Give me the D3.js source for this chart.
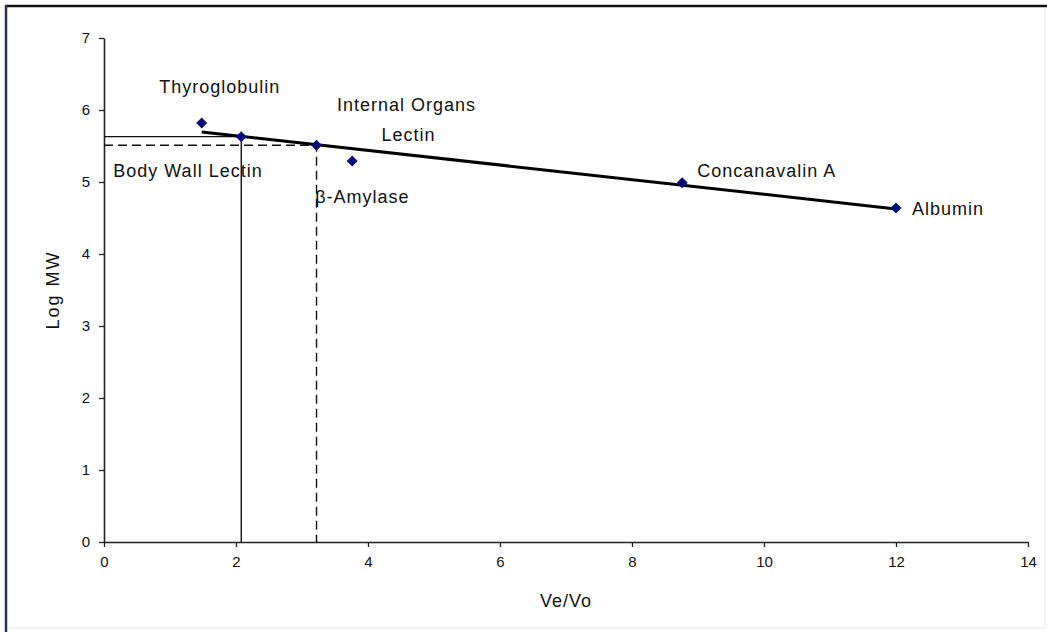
<!DOCTYPE html>
<html>
<head>
<meta charset="utf-8">
<script src="https://cdn.jsdelivr.net/npm/d3@7"></script>
<style>
  body { margin: 0; background: #fff; }
  svg text { font-family: "Liberation Sans", Arial, sans-serif; fill: #111; }
</style>
</head>
<body>
<script>
// standards used for the calibration curve
const proteinNames = ["Thyroglobulin", "β-Amylase", "Concanavalin A", "Albumin"];
const proteinVeVo = [1.48, 3.76, 8.76, 12.0];
const proteinLogMW = [5.82, 5.29, 4.99, 4.64];

// unknowns
const lectinNames = ["Body Wall Lectin", "Internal Organs Lectin"];
const lectinVeVo = [2.08, 3.22];
const lectinLogMW = [5.63, 5.51];

const xTicks = [0, 2, 4, 6, 8, 10, 12, 14];
const yTicks = [0, 1, 2, 3, 4, 5, 6, 7];
const xTitle = "Ve/Vo";
const yTitle = "Log MW";

const width = 1047;
const height = 632;
const margin = { top: 38, right: 19, bottom: 90, left: 104 };

const svg = d3
  .select("body")
  .append("svg")
  .attr("width", width)
  .attr("height", height);

// frame round the chart (dark top/left, light bottom/right)
svg.append("line").attr("x1", 5).attr("x2", width).attr("y1", 6).attr("y2", 6)
  .attr("stroke", "#111").attr("stroke-width", 2.5);
svg.append("line").attr("x1", 6).attr("x2", 6).attr("y1", 5).attr("y2", height)
  .attr("stroke", "#2b3150").attr("stroke-width", 2.5);
svg.append("line").attr("x1", 1045).attr("x2", 1045).attr("y1", 8).attr("y2", 628)
  .attr("stroke", "#e6e6e6").attr("stroke-width", 1);
svg.append("line").attr("x1", 8).attr("x2", 1045).attr("y1", 628).attr("y2", 628)
  .attr("stroke", "#e6e6e6").attr("stroke-width", 1);

const x = d3.scaleLinear().domain([0, 14]).range([margin.left, width - margin.right]);
const y = d3.scaleLinear().domain([0, 7]).range([height - margin.bottom, margin.top]);

const xAxis = svg.append("g")
  .attr("transform", `translate(0, ${y(0)})`)
  .call(d3.axisBottom(x).tickValues(xTicks).tickFormat(d3.format("d"))
    .tickSize(5).tickPadding(9).tickSizeOuter(0));

const yAxis = svg.append("g")
  .attr("transform", `translate(${x(0)}, 0)`)
  .call(d3.axisLeft(y).tickValues(yTicks).tickFormat(d3.format("d"))
    .tickSize(5).tickPadding(9).tickSizeOuter(0));

[xAxis, yAxis].forEach((ax) => {
  ax.select(".domain").attr("stroke", "#222").attr("stroke-width", 1.6);
  ax.selectAll(".tick line").attr("stroke", "#222").attr("stroke-width", 1.3);
  ax.selectAll(".tick text").attr("font-size", 15).attr("fill", "#111")
    .style("font-family", "'Liberation Sans', Arial, sans-serif");
});

svg.append("text")
  .attr("x", (x(0) + x(14)) / 2)
  .attr("y", 607)
  .attr("text-anchor", "middle")
  .attr("font-size", 18)
  .attr("letter-spacing", 1)
  .text(xTitle);

svg.append("text")
  .attr("transform", `translate(59, ${(y(0) + y(7)) / 2}) rotate(-90)`)
  .attr("text-anchor", "middle")
  .attr("font-size", 18)
  .attr("letter-spacing", 2)
  .text(yTitle);

// least squares fit through the standards
const meanX = d3.mean(proteinVeVo);
const meanY = d3.mean(proteinLogMW);
let sxy = 0, sxx = 0;
proteinVeVo.forEach((v, i) => {
  sxy += (v - meanX) * (proteinLogMW[i] - meanY);
  sxx += (v - meanX) * (v - meanX);
});
const slope = sxy / sxx;
const intercept = meanY - slope * meanX;
const fitX = d3.extent(proteinVeVo);

// reference lines for the lectins
const lectinDash = ["none", "9,5"];
lectinVeVo.forEach((v, i) => {
  const path = d3.path();
  path.moveTo(x(0), y(lectinLogMW[i]));
  path.lineTo(x(v), y(lectinLogMW[i]));
  path.lineTo(x(v), y(0));
  svg.append("path")
    .attr("d", path.toString())
    .attr("fill", "none")
    .attr("stroke", "#111")
    .attr("stroke-width", 1.4)
    .attr("stroke-dasharray", lectinDash[i]);
});

svg.append("line")
  .attr("x1", x(fitX[0]))
  .attr("y1", y(intercept + slope * fitX[0]))
  .attr("x2", x(fitX[1]))
  .attr("y2", y(intercept + slope * fitX[1]))
  .attr("stroke", "#000")
  .attr("stroke-width", 3);

const diamond = "M0,-5.5L5.5,0L0,5.5L-5.5,0Z";
const allVeVo = proteinVeVo.concat(lectinVeVo);
const allLogMW = proteinLogMW.concat(lectinLogMW);
allVeVo.forEach((v, i) => {
  svg.append("path")
    .attr("d", diamond)
    .attr("transform", `translate(${x(v)}, ${y(allLogMW[i])})`)
    .attr("fill", "#0a0a78");
});

// label placement relative to each point
const labelOffset = {
  "Thyroglobulin": { dx: 18, dy: -30, anchor: "middle" },
  "β-Amylase": { dx: -37, dy: 42, anchor: "start" },
  "Concanavalin A": { dx: 15, dy: -6, anchor: "start" },
  "Albumin": { dx: 16, dy: 7, anchor: "start" },
  "Body Wall Lectin": { dx: -128, dy: 40, anchor: "start" },
  "Internal Organs Lectin": { dx: 90, dy: -34, anchor: "middle" }
};

const allNames = proteinNames.concat(lectinNames);
allNames.forEach((name, i) => {
  const off = labelOffset[name];
  const t = svg.append("text")
    .attr("x", x(allVeVo[i]) + off.dx)
    .attr("y", y(allLogMW[i]) + off.dy)
    .attr("text-anchor", off.anchor)
    .attr("font-size", 18)
    .attr("letter-spacing", 1);
  if (name === "Internal Organs Lectin") {
    t.append("tspan").text("Internal Organs");
    t.append("tspan").attr("x", x(allVeVo[i]) + off.dx + 2).attr("dy", 30).text("Lectin");
  } else {
    t.text(name);
  }
});
</script>
</body>
</html>
